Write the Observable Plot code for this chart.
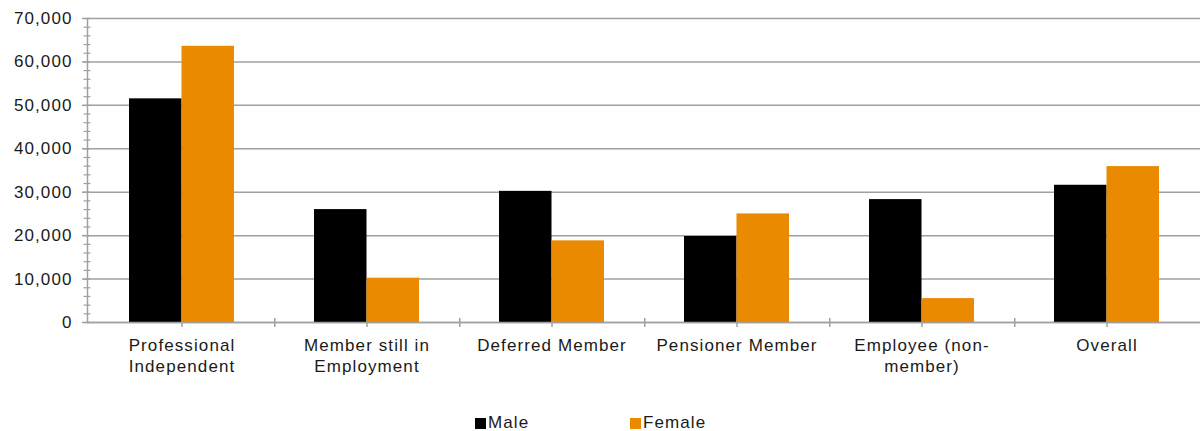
<!DOCTYPE html>
<html>
<head>
<meta charset="utf-8">
<script src="https://cdn.jsdelivr.net/npm/d3@7"></script>
<script src="https://cdn.jsdelivr.net/npm/@observablehq/plot@0.6"></script>
<style>
  html, body { margin: 0; padding: 0; background: #fff; }
  #chart svg { display: block; }
  .legend { position: relative; width: 1203px; height: 31px; font-family: "Liberation Sans", Arial, sans-serif; font-size: 17px; letter-spacing: 1.1px; color: #1a1a1a; }
  .legend .item { position: absolute; top: 13px; display: flex; align-items: center; }
  .legend .sw { width: 11px; height: 11px; margin-right: 2px; }
</style>
</head>
<body>
<div id="chart"></div>
<div class="legend" id="legend"></div>
<script>
const categories = ["Professional Independent", "Member still in Employment", "Deferred Member", "Pensioner Member", "Employee (non-member)", "Overall"];
const categoryLabels = ["Professional\nIndependent", "Member still in\nEmployment", "Deferred Member", "Pensioner Member", "Employee (non-\nmember)", "Overall"];
const male = [51500, 26000, 30200, 19800, 28300, 31600];
const female = [63600, 10200, 18800, 25000, 5500, 35900];
const yTicks = [0, 10000, 20000, 30000, 40000, 50000, 60000, 70000];
const series = ["Male", "Female"];
const colors = ["#000000", "#EA8A00"];

const data = categories.map((c, i) => ({category: c, male: male[i], female: female[i]}));
const labelOf = Object.fromEntries(categories.map((c, i) => [c, categoryLabels[i]]));
const minorTicks = d3.range(0, 70001, 2000);
const gray = "#a0a0a0";

const chart = Plot.plot({
  width: 1203,
  height: 400,
  marginLeft: 87,
  marginRight: 3,
  marginTop: 18,
  marginBottom: 78,
  style: {fontFamily: "Liberation Sans, Arial, sans-serif", fontSize: "17px", letterSpacing: "1.1px", color: "#1a1a1a", background: "#fff"},
  x: {domain: categories, paddingInner: 0.434, paddingOuter: 0.217, axis: null},
  y: {domain: [0, 70000], axis: null},
  marks: [
    Plot.gridY(yTicks, {stroke: gray, strokeOpacity: 1, strokeWidth: 1.5}),
    Plot.barY(data, {x: "category", y: "male", fill: colors[0], insetRight: 52.5}),
    Plot.barY(data, {x: "category", y: "female", fill: colors[1], insetLeft: 52.5}),
    Plot.ruleY([0], {stroke: gray, strokeWidth: 1.5}),
    Plot.frame({anchor: "left", stroke: gray, strokeWidth: 1.5}),
    Plot.axisY(yTicks, {label: null, tickSize: 5, tickPadding: 10, tickFormat: d3.format(","), stroke: gray, fill: "#1a1a1a", strokeWidth: 1.5}),
    Plot.axisY(minorTicks, {label: null, tickSize: 7, dx: 3.5, tickFormat: () => "", stroke: gray, strokeWidth: 1.2}),
    Plot.axisX(categories, {label: null, tickSize: 5, tickPadding: 8, tickFormat: d => labelOf[d], lineHeight: 1.25, stroke: gray, fill: "#1a1a1a", strokeWidth: 1.5}),
    Plot.axisX(categories.slice(0, 5), {label: null, tickSize: 9, dx: 92.75, dy: -4, tickFormat: () => "", stroke: gray, strokeWidth: 1.5})
  ]
});
document.getElementById("chart").appendChild(chart);

const legend = document.getElementById("legend");
const lefts = [475, 630];
series.forEach((s, i) => {
  const item = document.createElement("div");
  item.className = "item";
  item.style.left = lefts[i] + "px";
  item.innerHTML = `<span class="sw" style="background:${colors[i]}"></span><span>${s}</span>`;
  legend.appendChild(item);
});
</script>
</body>
</html>
